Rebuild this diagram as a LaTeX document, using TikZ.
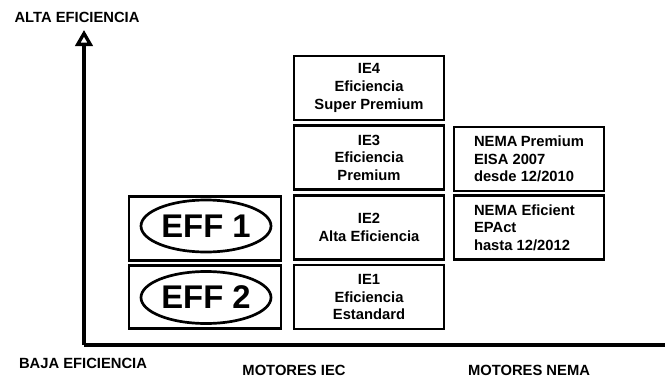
\documentclass[tikz,border=0pt]{standalone}
\usepackage{fontspec}
\setmainfont{Liberation Sans}
\usetikzlibrary{arrows.meta, shapes.geometric}

\tikzset{
	iebox/.style = {draw, line width = 2.3pt, minimum width = 4.5cm, minimum height = 1.92cm, align = center, inner sep = 0pt, font = \bfseries\fontsize{12.6}{15}\selectfont},
	nemabox/.style = {draw, line width = 2.3pt, minimum height = 1.92cm, text width = 3.3cm, inner xsep = 0.6cm, inner ysep = 0pt, align = flush left, font = \bfseries\fontsize{12.6}{15}\selectfont},
	effbox/.style = {draw, line width = 2.3pt, minimum width = 4.56cm, minimum height = 1.9cm, inner sep = 0pt},
	effoval/.style = {draw, ellipse, line width = 2.3pt, minimum width = 3.9cm, minimum height = 1.56cm, inner sep = 0pt, font = \bfseries\fontsize{28}{30}\selectfont},
	axislabel/.style = {font = \bfseries\fontsize{12.6}{14}\selectfont},
	axis/.style = {line width = 2.8pt}
}

\begin{document}
\begin{tikzpicture}[x = 0.03cm, y = -0.03cm]

	\useasboundingbox (0, 0) rectangle (665, 380);

	% ejes
	\coordinate (top) at (84, 30);
	\coordinate (origin) at (84, 345);
	\coordinate (right) at (665, 345);
	\draw[axis, -{Triangle[open, length = 0.48cm, width = 0.52cm]}] (origin) -- (top);
	\draw[axis] (origin) -- (right);

	\node[axislabel] (alta) at (77, 17) {ALTA EFICIENCIA};
	\node[axislabel] (baja) at (83, 363) {BAJA EFICIENCIA};
	\node[axislabel] (iec) at (294, 370) {MOTORES IEC};
	\node[axislabel] (nema) at (529, 370) {MOTORES NEMA};

	% clases EFF
	\node[effbox] (effone) at (205, 228.5) {};
	\node[effoval] (effoneoval) at (206, 226) {EFF 1};
	\node[effbox] (efftwo) at (205, 297) {};
	\node[effoval] (efftwooval) at (206, 297.5) {EFF 2};

	% clases IEC
	\node[iebox] (ieiv) at (369, 88) {IE4\\Eficiencia\\Super Premium};
	\node[iebox] (ieiii) at (369, 157.5) {IE3\\Eficiencia\\Premium};
	\node[iebox] (ieii) at (369, 227.5) {IE2\\Alta Eficiencia};
	\node[iebox] (iei) at (369, 297) {IE1\\Eficiencia\\Estandard};

	% clases NEMA
	\node[nemabox] (premium) at (529, 159) {NEMA~Premium\\EISA~2007\\desde~12/2010};
	\node[nemabox] (eficient) at (529, 227.5) {NEMA~Eficient\\EPAct\\hasta~12/2012};

\end{tikzpicture}
\end{document}
